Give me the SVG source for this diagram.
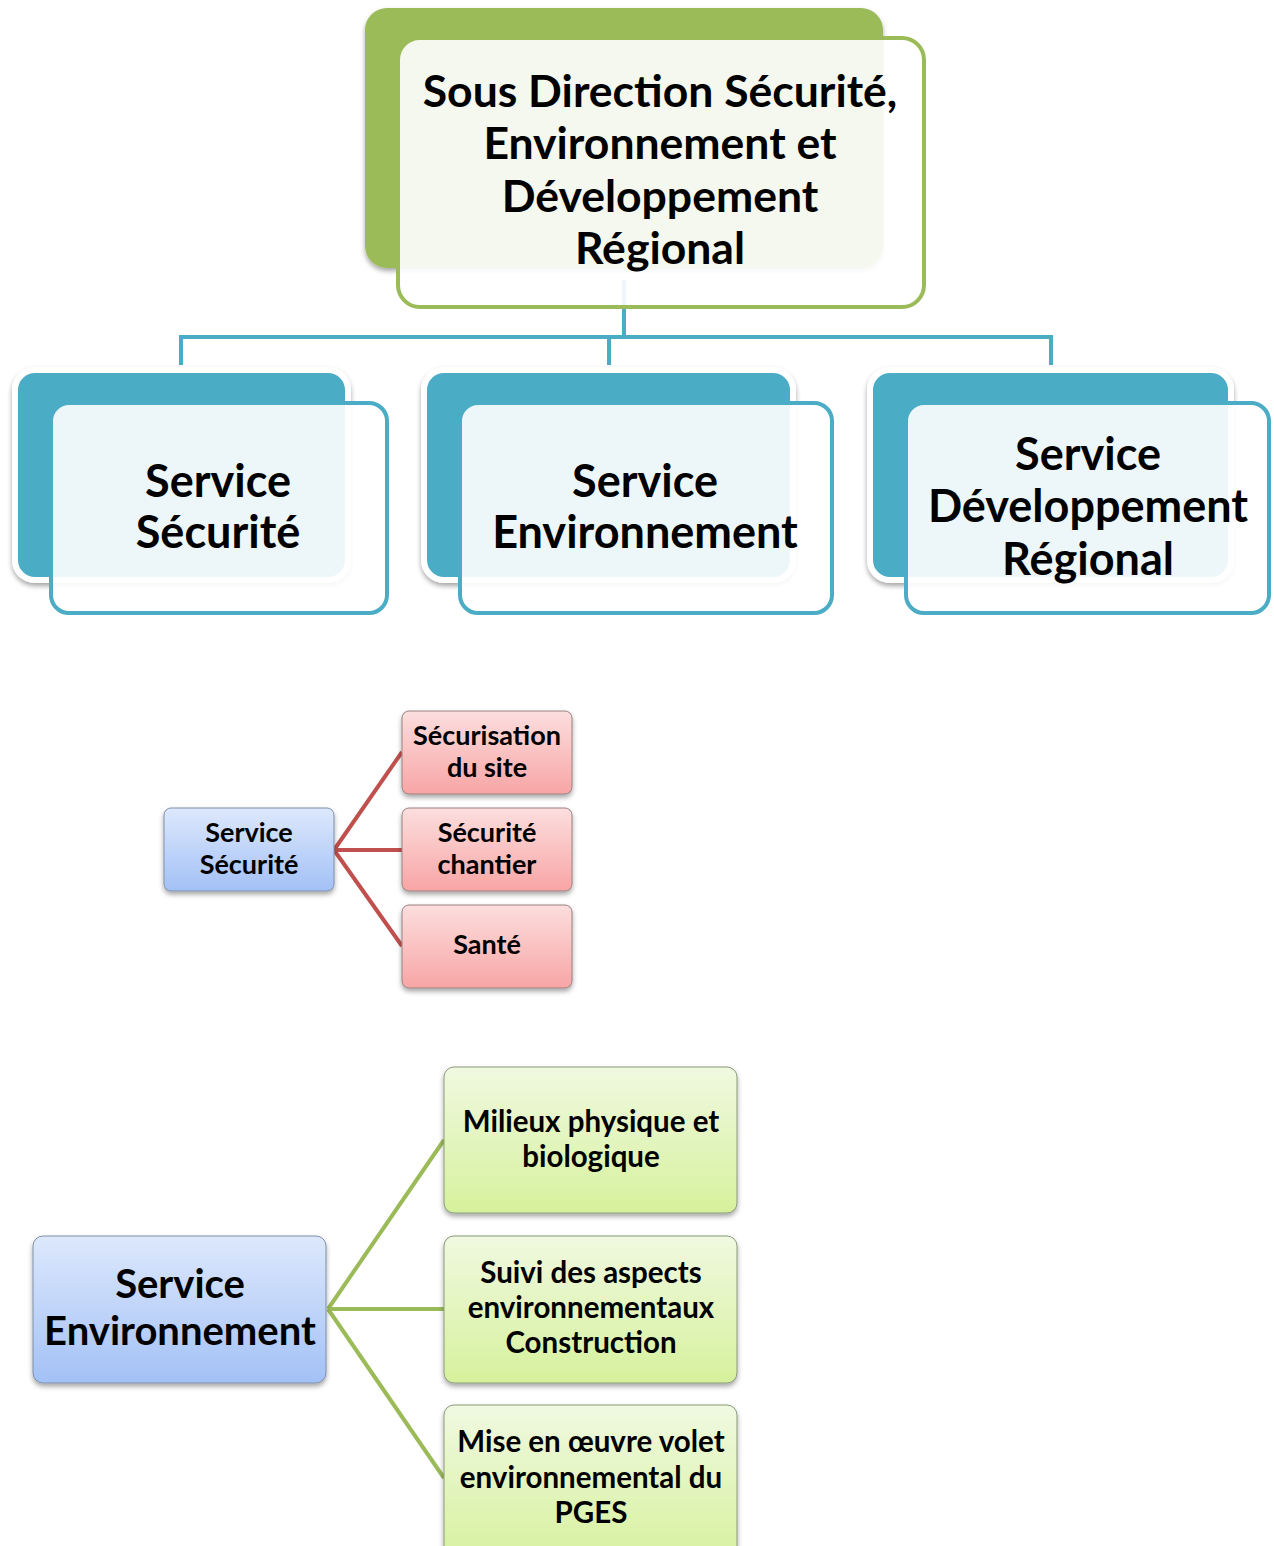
<svg xmlns="http://www.w3.org/2000/svg" width="1274" height="1546" viewBox="0 0 1274 1546">
<defs>
<style>
text{font-family:"Lato","Liberation Sans",sans-serif;font-weight:bold;fill:#000;text-anchor:middle}
.big{font-size:44.5px}
.svc{font-size:45px}
.sm{font-size:27px}
.md{font-size:29.5px}
.lg{font-size:40px}
.conn-b{stroke:#4BACC6;stroke-width:4;fill:none}
.conn-r{stroke:#C0504D;stroke-width:4;fill:none}
.conn-g{stroke:#9BBB59;stroke-width:4;fill:none}
.backG{fill:#9BBB59}
.backB{fill:#4BACC6;stroke:#fff;stroke-width:6}
.front{fill:#fff;fill-opacity:0.9}
.fG{stroke:#9BBB59;stroke-width:4}
.fB{stroke:#4BACC6;stroke-width:4}
.bbox{fill:url(#gBlue);stroke:#7F8FA9;stroke-width:1}
.rbox{fill:url(#gRed);stroke:#9a8080;stroke-width:1}
.gbox{fill:url(#gGreen);stroke:#8a9a7a;stroke-width:1}
</style>
<linearGradient id="gBlue" x1="0" y1="0" x2="0" y2="1"><stop offset="0" stop-color="#DDE8FC"/><stop offset="1" stop-color="#A3C1F6"/></linearGradient>
<linearGradient id="gRed" x1="0" y1="0" x2="0" y2="1"><stop offset="0" stop-color="#FCDEDE"/><stop offset="1" stop-color="#F8A5A5"/></linearGradient>
<linearGradient id="gGreen" x1="0" y1="0" x2="0" y2="1"><stop offset="0" stop-color="#F0F9E1"/><stop offset="1" stop-color="#D6F19C"/></linearGradient>
<filter id="sh" x="-10%" y="-10%" width="120%" height="130%"><feDropShadow dx="0" dy="3" stdDeviation="2.5" flood-color="#000" flood-opacity="0.35"/></filter>
</defs>
<rect width="1274" height="1546" fill="#fff"/>

<g id="connectors">
<path class="conn-b" d="M624 280V337M181 365V337H1051V365M609 337V365"/>
<path class="conn-r" d="M334 850L402 752M334 850H402M334 850L402 946"/>
<path class="conn-g" d="M328 1309L444 1140M328 1309H444M328 1309L444 1478"/>
</g>

<g id="n-top">
<rect class="backG" x="365" y="8" width="518" height="260" rx="22" filter="url(#sh)"/>
<rect class="front fG" x="398" y="38" width="526" height="269" rx="22"/>
<text class="big" x="660" y="107">Sous Direction Sécurité,</text>
<text class="big" x="660" y="159">Environnement et</text>
<text class="big" x="660" y="212">Développement</text>
<text class="big" x="660" y="264">Régional</text>
</g>

<g id="n-securite">
<rect class="backB" x="15" y="370" width="333" height="210" rx="20" filter="url(#sh)"/>
<rect class="front fB" x="51" y="403" width="336" height="210" rx="18"/>
<text class="svc" x="218" y="497">Service</text>
<text class="svc" x="218" y="548">Sécurité</text>
</g>

<g id="n-environnement">
<rect class="backB" x="424" y="370" width="369" height="210" rx="20" filter="url(#sh)"/>
<rect class="front fB" x="460" y="403" width="372" height="210" rx="18"/>
<text class="svc" x="645" y="497">Service</text>
<text class="svc" x="645" y="548">Environnement</text>
</g>

<g id="n-developpement">
<rect class="backB" x="870" y="370" width="361" height="210" rx="20" filter="url(#sh)"/>
<rect class="front fB" x="906" y="403" width="363" height="210" rx="18"/>
<text class="svc" x="1088" y="470">Service</text>
<text class="svc" x="1088" y="522">Développement</text>
<text class="svc" x="1088" y="575">Régional</text>
</g>

<g id="s-securite">
<rect class="bbox" x="164" y="808" width="170" height="83" rx="7" filter="url(#sh)"/>
<text class="sm" x="249" y="842">Service</text>
<text class="sm" x="249" y="874">Sécurité</text>
</g>
<g id="s-sec-site">
<rect class="rbox" x="402" y="711" width="170" height="83" rx="7" filter="url(#sh)"/>
<text class="sm" x="487" y="745">Sécurisation</text>
<text class="sm" x="487" y="777">du site</text>
</g>
<g id="s-sec-chantier">
<rect class="rbox" x="402" y="808" width="170" height="83" rx="7" filter="url(#sh)"/>
<text class="sm" x="487" y="842">Sécurité</text>
<text class="sm" x="487" y="874">chantier</text>
</g>
<g id="s-sante">
<rect class="rbox" x="402" y="905" width="170" height="83" rx="7" filter="url(#sh)"/>
<text class="sm" x="487" y="954">Santé</text>
</g>

<g id="e-environnement">
<rect class="bbox" x="33" y="1236" width="293" height="147" rx="10" filter="url(#sh)"/>
<text class="lg" x="180" y="1298">Service</text>
<text class="lg" x="180" y="1345">Environnement</text>
</g>
<g id="e-milieux">
<rect class="gbox" x="444" y="1067" width="293" height="146" rx="10" filter="url(#sh)"/>
<text class="md" x="591" y="1132">Milieux physique et</text>
<text class="md" x="591" y="1167">biologique</text>
</g>
<g id="e-suivi">
<rect class="gbox" x="444" y="1236" width="293" height="147" rx="10" filter="url(#sh)"/>
<text class="md" x="591" y="1283">Suivi des aspects</text>
<text class="md" x="591" y="1318">environnementaux</text>
<text class="md" x="591" y="1353">Construction</text>
</g>
<g id="e-pges">
<rect class="gbox" x="444" y="1405" width="293" height="160" rx="10" filter="url(#sh)"/>
<text class="md" x="591" y="1452">Mise en œuvre volet</text>
<text class="md" x="591" y="1488">environnemental du</text>
<text class="md" x="591" y="1523">PGES</text>
</g>
</svg>
